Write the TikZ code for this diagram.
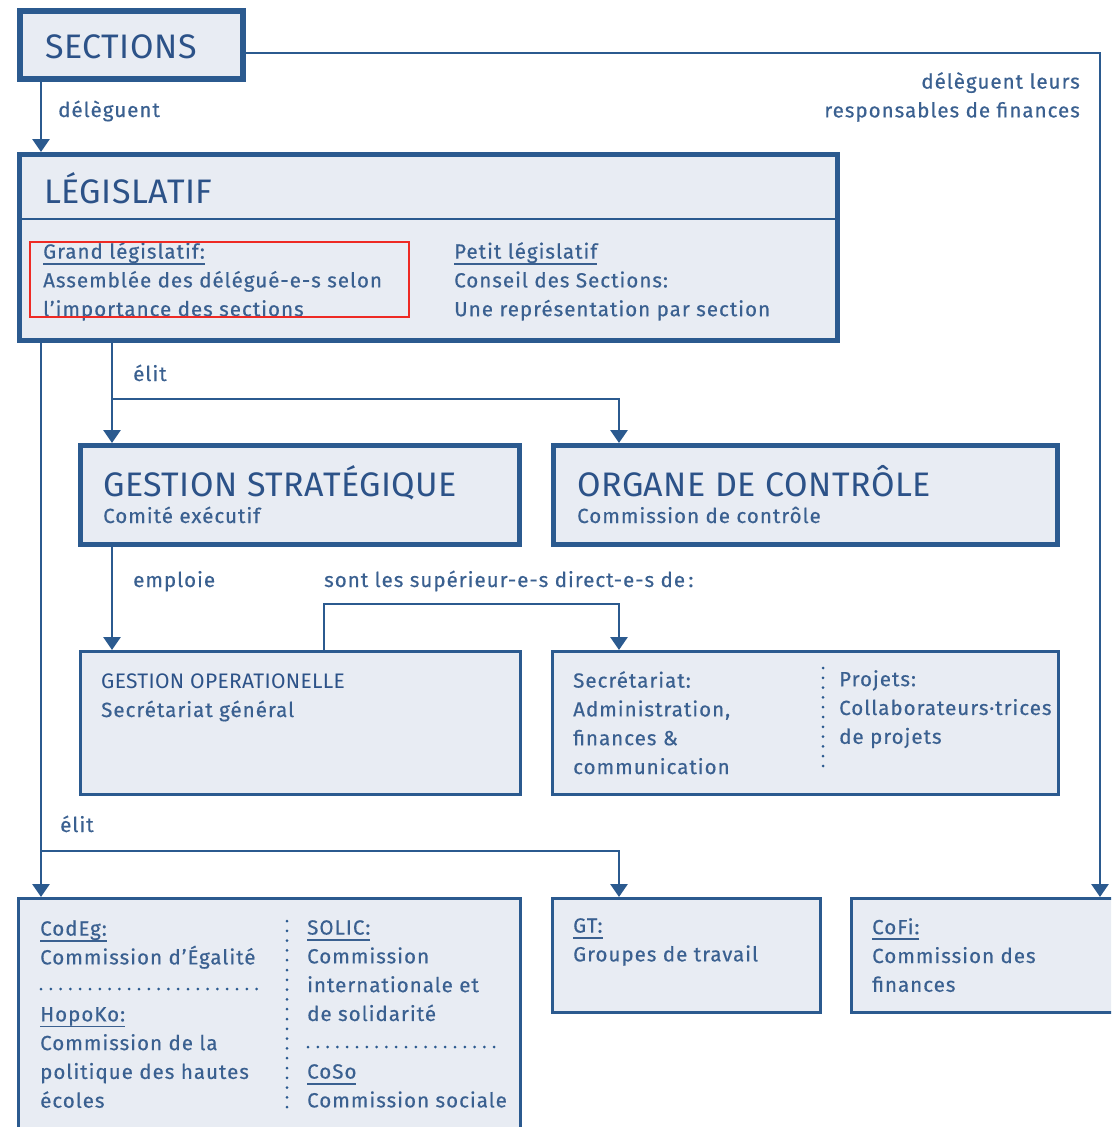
\documentclass[tikz,border=0pt]{standalone}
\usepackage{fontspec}
\setmainfont[LetterSpace=5,FakeBold=0.5]{Fira Sans}
\newfontfamily\titlefont[LetterSpace=1.5]{Fira Sans}
\usetikzlibrary{arrows.meta}
\definecolor{bd}{HTML}{2B5A8F}
\definecolor{fl}{HTML}{E8ECF3}
\definecolor{tx}{HTML}{3A6090}
\definecolor{ttl}{HTML}{2C5288}
\definecolor{hl}{HTML}{EE2A24}
\newcommand\myul[1]{\setbox0\hbox{#1}\rlap{\raisebox{-6pt}{\rule{\wd0}{1.8pt}}}\box0}
\begin{document}
\begin{tikzpicture}[x=1pt,y=-1pt,
 thickbox/.style={draw=bd,fill=fl,line width=5pt,rectangle,inner sep=0pt,outer sep=2.5pt,anchor=north west},
 thinbox/.style={draw=bd,fill=fl,line width=3pt,rectangle,inner sep=0pt,outer sep=1.5pt,anchor=north west},
 conn/.style={draw=bd,line width=2.8pt},
 arr/.style={conn,-{Triangle[width=17pt,length=13pt]}},
 body/.style={text=tx,font=\fontsize{20.5}{28.8}\selectfont,anchor=north west,inner sep=0pt,align=left,
   execute at begin node={\rule{0pt}{17pt}}},
 lbl/.style={text=tx,font=\fontsize{20.5}{28.8}\selectfont,anchor=base west,inner sep=0pt},
 ttl/.style={text=ttl,font=\titlefont\fontsize{34}{34}\selectfont,anchor=base west,inner sep=0pt},
 smallttl/.style={text=ttl,font=\titlefont\fontsize{21}{21}\selectfont,anchor=base west,inner sep=0pt},
 dots/.style={draw=bd,line width=3pt,line cap=round,dash pattern=on 0pt off 9.8pt}]
\useasboundingbox (0,0) rectangle (1111,1127);
\clip (0,0) rectangle (1111,1127);
\fill[white] (0,0) rectangle (1111,1127);

% boxes (positions are outer edges)
\node[thickbox,line width=6pt,outer sep=3pt,minimum width=223pt,minimum height=68pt] (sec) at (17,8) {};
\node[thickbox,minimum width=818pt,minimum height=186pt] (leg) at (17,152) {};
\node[thickbox,minimum width=439pt,minimum height=99pt] (gs) at (78,443) {};
\node[thickbox,minimum width=504pt,minimum height=99pt] (oc) at (551,443) {};
\node[thinbox,minimum width=440pt,minimum height=143pt] (go) at (79,650) {};
\node[thinbox,minimum width=506pt,minimum height=143pt] (secr) at (551,650) {};
\node[thinbox,minimum width=502pt,minimum height=260pt] (com) at (17,897) {};
\node[thinbox,minimum width=268pt,minimum height=114pt] (gt) at (551,897) {};
\node[thinbox,minimum width=290pt,minimum height=114pt] (cofi) at (850,897) {};

% divider in legislatif
\coordinate (ydiv) at (0,219);
\draw[bd,line width=2.5pt] (ydiv -| leg.west) -- (ydiv -| leg.east);

% titles
\node[ttl] (tsec) at (45,58) {SECTIONS};
\node[ttl] (tleg) at (44,203) {LÉGISLATIF};
\node[ttl] (tgs) at (103,496) {GESTION STRATÉGIQUE};
\node[lbl] (sgs) at (103,523) {Comité exécutif};
\node[ttl] (toc) at (577,496) {ORGANE DE CONTRÔLE};
\node[lbl] (soc) at (577,523) {Commission de contrôle};
\node[smallttl] (tgo) at (101,688) {GESTION OPERATIONELLE};
\node[lbl] (sgo) at (101,717) {Secrétariat général};

% legislatif texts (top = first baseline - 17)
\node[body] (grand) at (43,242) {\myul{Grand législatif:}\\Assemblée des délégué-e-s selon\\l’importance des sections};
\node[body] (petit) at (454,242) {\myul{Petit législatif}\\Conseil des Sections:\\Une représentation par section};
\node[draw=hl,line width=2pt,inner sep=0pt,minimum width=379pt,minimum height=75pt,anchor=north west] (mark) at (29,241) {};

% secretariat texts
\node[body] (secrt) at (573,671) {Secrétariat:\\Administration,\\finances \&\\communication};
\node[body] (proj) at (839,670) {Projets:\\Collaborateurs·trices\\de projets};
\draw[dots] (823,668) -- (823,775);

% commissions
\node[body] (codeg) at (40,920) {\myul{CodEg:}\\Commission d’Égalité};
\node[body] (hopo) at (40,1007) {\myul{HopoKo:}\\Commission de la\\politique des hautes\\écoles};
\node[body] (solic) at (307,920) {\myul{SOLIC:}\\Commission\\internationale et\\de solidarité};
\node[body] (coso) at (307,1064) {\myul{CoSo}\\Commission sociale};
\draw[dots] (287,921) -- (287,1110);
\draw[dots] (41,989) -- (265,989);
\draw[dots] (308,1047) -- (500,1047);
\node[body] (gtt) at (573,918) {\myul{GT:}\\Groupes de travail};
\node[body] (cofit) at (872,918) {\myul{CoFi:}\\Commission des\\finances};

% labels
\node[lbl] (ldel) at (58,117) {délèguent};
\node[lbl] (lelit) at (133,381) {élit};
\node[lbl] (lemp) at (133,587) {emploie};
\node[lbl] (lsup) at (324,587) {sont les supérieur-e-s direct-e-s de\,:};
\node[lbl] (lelit2) at (60,832) {élit};
\node[text=tx,font=\fontsize{20.5}{28.8}\selectfont,anchor=north east,inner sep=0pt,align=right,
  execute at begin node={\rule{0pt}{17pt}}] (lfin) at (1080,72) {délèguent leurs\\responsables de finances};

% connectors
\coordinate (xA) at (41,0);
\coordinate (xE) at (112,0);
\coordinate (xG) at (619,0);
\coordinate (xS) at (324,0);
\coordinate (xR) at (1100,0);
\coordinate (yE) at (0,399);
\coordinate (yS) at (0,604);
\coordinate (yB) at (0,851);
\coordinate (yR) at (0,53);

\draw[arr] (xA |- sec.south) -- (xA |- leg.north);
\draw[arr] (sec.east |- yR) -- (xR |- yR) -- (xR |- cofi.north);
\draw[arr] (xE |- leg.south) -- (xE |- gs.north);
\draw[arr] (xE |- yE) -- (xG |- yE) -- (xG |- oc.north);
\draw[arr] (xE |- gs.south) -- (xE |- go.north);
\draw[arr] (xS |- go.north) -- (xS |- yS) -- (xG |- yS) -- (xG |- secr.north);
\draw[arr] (xA |- leg.south) -- (xA |- com.north);
\draw[arr] (xA |- yB) -- (xG |- yB) -- (xG |- gt.north);
\end{tikzpicture}
\end{document}
